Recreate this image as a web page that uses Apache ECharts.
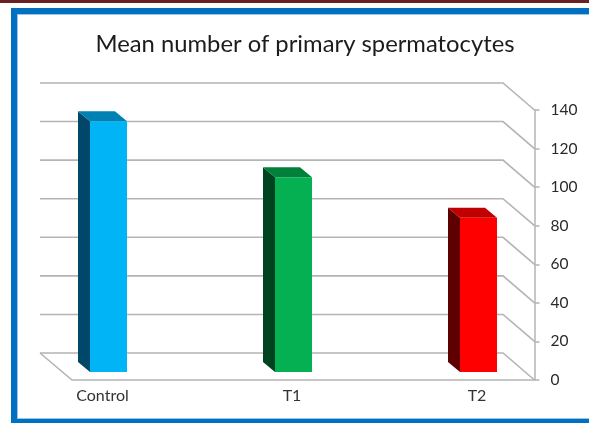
<!DOCTYPE html>
<html><head><meta charset="utf-8">
<style>html,body{margin:0;padding:0;background:#fff}#c{width:589px;height:423px}</style>
<script src="https://cdn.jsdelivr.net/npm/echarts@6/dist/echarts.min.js"></script>
</head><body><div id="c"></div>
<script>
const categories = ['Control', 'T1', 'T2'];
const values = [130, 101, 80];
const faceColors = ['#00b4f5', '#05b052', '#fe0000'];
const sideColors = ['#00476a', '#00431f', '#5e0000'];
const topColors = ['#0080b3', '#00803a', '#c00000'];
const tickValues = [0, 20, 40, 60, 80, 100, 120, 140];
const chartTitle = 'Mean number of primary spermatocytes';

const chart = echarts.init(document.getElementById('c'), null, {renderer: 'canvas'});
const BACK_L = 40, BACK_R = 503, FRONT_L = 72, FRONT_R = 534.5, DEPTH_Y = 27;
const lineColor = '#b4b4b4';
const font = 'Lato';
const catLabelStyle = {fontFamily: font, fontSize: 16, color: '#333'};

chart.setOption({
  animation: false,
  backgroundColor: '#fff',
  title: {
    text: chartTitle, left: 300, top: 27, textAlign: 'center',
    textStyle: {fontFamily: font, fontSize: 23.8, fontWeight: 'normal', color: '#1c1c1c'}
  },
  graphic: [
    {type: 'rect', silent: true, z: -10, shape: {x: 0, y: 0, width: 589, height: 3}, style: {fill: '#6b2121'}},
    {type: 'rect', silent: true, z: -10, shape: {x: 11, y: 8, width: 578, height: 415}, style: {fill: '#0070c0'}},
    {type: 'rect', silent: true, z: -9, shape: {x: 17, y: 14, width: 572, height: 405}, style: {fill: '#9dc3e6'}},
    {type: 'rect', silent: true, z: -8, shape: {x: 18, y: 15, width: 571, height: 403}, style: {fill: '#ffffff'}}
  ],
  grid: [
    {left: FRONT_L, width: FRONT_R - FRONT_L, top: 110, height: 270},
    {left: 16, width: 555, top: 102, height: 270}
  ],
  xAxis: [
    {gridIndex: 0, type: 'value', min: 0, max: 1, show: false},
    {gridIndex: 1, type: 'category', data: categories,
      axisLine: {show: false}, axisTick: {show: false},
      axisLabel: {margin: 16,
        formatter: (v, i) => '{c' + i + '|' + v + '}',
        rich: {
          c0: {...catLabelStyle, padding: [0, 12, 0, 0]},
          c1: {...catLabelStyle, padding: [0, 3, 0, 0]},
          c2: {...catLabelStyle, padding: [0, 3, 0, 0]}
        }}}
  ],
  yAxis: [
    {gridIndex: 0, type: 'value', position: 'right', min: 0, max: 140, interval: 20,
      splitLine: {show: false},
      axisLine: {show: true, onZero: false, lineStyle: {color: lineColor, width: 1.5}},
      axisTick: {show: true, length: 5, lineStyle: {color: lineColor, width: 1.5}},
      axisLabel: {margin: 16, fontFamily: font, fontSize: 15.5, color: '#2a2a2a'}},
    {gridIndex: 1, type: 'value', min: 0, max: 140, interval: 20, show: false}
  ],
  series: [
    {
      type: 'custom', xAxisIndex: 0, yAxisIndex: 0, z: 1, silent: true, clip: false,
      data: tickValues.map(v => [0, v]),
      renderItem(params, api) {
        const y = api.coord([0, api.value(1)])[1];
        const pts = [[BACK_L, y - DEPTH_Y], [BACK_R, y - DEPTH_Y], [FRONT_R, y]];
        const children = [{type: 'polyline', shape: {points: pts},
          style: {stroke: lineColor, lineWidth: 1.6, fill: null}}];
        if (api.value(1) === 0) {
          children.push({type: 'polyline', shape: {points: [[BACK_L, y - DEPTH_Y], [FRONT_L, y], [FRONT_R, y]]},
            style: {stroke: lineColor, lineWidth: 1.6, fill: null}});
        }
        return {type: 'group', children};
      }
    },
    {
      type: 'custom', xAxisIndex: 1, yAxisIndex: 1, z: 3, silent: true, clip: false,
      data: values.map((v, i) => [i, v]),
      renderItem(params, api) {
        const i = api.value(0);
        const top = api.coord([i, api.value(1)]);
        const base = api.coord([i, 0]);
        const hw = 18.5, dx = 12, dy = 10;
        const L = top[0] - hw, R = top[0] + hw, T = top[1], B = base[1];
        return {type: 'group', children: [
          {type: 'polygon', shape: {points: [[L, T], [L - dx, T - dy], [L - dx, B - dy], [L, B]]}, style: {fill: sideColors[i]}},
          {type: 'polygon', shape: {points: [[L, T], [L - dx, T - dy], [R - dx, T - dy], [R, T]]}, style: {fill: topColors[i]}},
          {type: 'rect', shape: {x: L, y: T, width: R - L, height: B - T}, style: {fill: faceColors[i]}}
        ]};
      }
    }
  ]
});
</script></body></html>
